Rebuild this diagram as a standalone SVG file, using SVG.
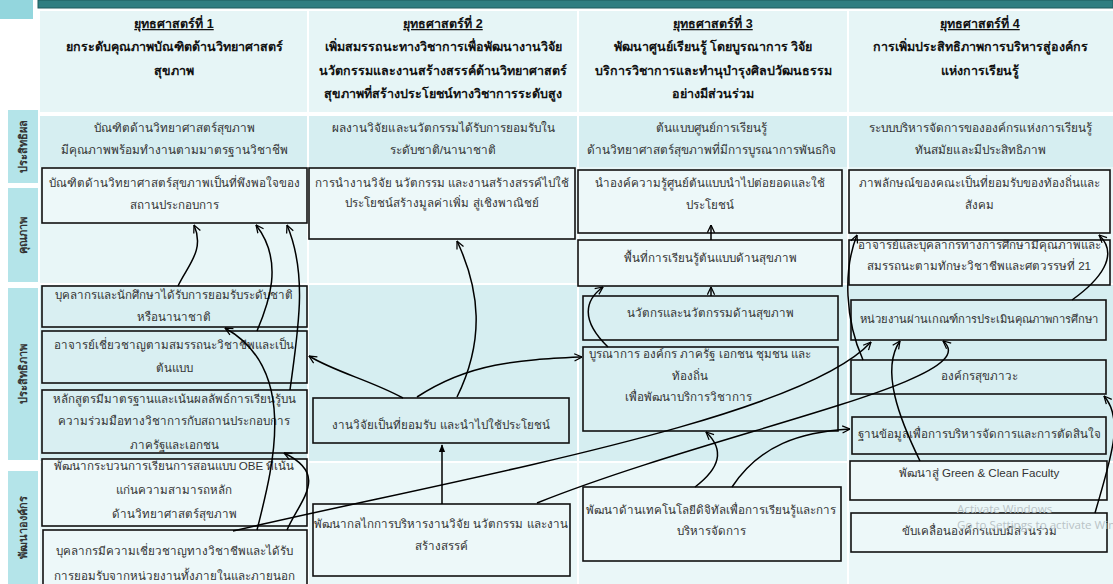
<svg xmlns="http://www.w3.org/2000/svg" width="1113" height="584" viewBox="0 0 1113 584">
<defs>
<style>
text{font-family:"Liberation Sans","Noto Sans",sans-serif;fill:#333;font-size:11.6px;text-anchor:middle}
.h{font-weight:bold;fill:#111;font-size:12.5px}
.u{text-decoration:underline}
.o{font-size:11.8px}
.lab{font-size:11px;font-weight:bold;fill:#333}
.bx{stroke:#111;stroke-width:1.6}
.lt{fill:#EDF8F9}
.dk{fill:#D9EFF2}
.c path{fill:none;stroke:#000;stroke-width:1.5}
.wm{fill:#b9c3c6;font-family:"Open Sans","Liberation Sans",sans-serif;text-anchor:start}
</style>
<marker id="a" viewBox="0 0 10 10" refX="9.5" refY="5" markerWidth="9" markerHeight="9" markerUnits="userSpaceOnUse" orient="auto"><path d="M1,1 L9.5,5 L1,9" fill="none" stroke="#000" stroke-width="1.4"/></marker>
<marker id="f" viewBox="0 0 10 10" refX="9" refY="5" markerWidth="8" markerHeight="8" markerUnits="userSpaceOnUse" orient="auto"><path d="M0,1 L10,5 L0,9 Z" fill="#000"/></marker>
</defs>
<rect width="1113" height="584" fill="#ffffff"/>
<rect x="0" y="0" width="33" height="19" fill="#93D6DD"/>
<rect x="38" y="0" width="1075" height="8" fill="#2F7E81" stroke="#1f5a5c" stroke-width="1"/>
<g id="background">
<rect x="40" y="11" width="267" height="101" fill="#E6F5F6"/>
<rect x="309" y="11" width="268" height="101" fill="#E6F5F6"/>
<rect x="579" y="11" width="268" height="101" fill="#E6F5F6"/>
<rect x="849" y="11" width="264" height="101" fill="#E6F5F6"/>
<rect x="40" y="116" width="267" height="51" fill="#D6EEF1"/>
<rect x="309" y="116" width="268" height="51" fill="#D6EEF1"/>
<rect x="579" y="116" width="268" height="51" fill="#D6EEF1"/>
<rect x="849" y="116" width="264" height="51" fill="#D6EEF1"/>
<rect x="40" y="167" width="267" height="116" fill="#E8F6F7"/>
<rect x="309" y="167" width="268" height="116" fill="#E8F6F7"/>
<rect x="579" y="167" width="268" height="116" fill="#E8F6F7"/>
<rect x="849" y="167" width="264" height="116" fill="#E8F6F7"/>
<rect x="40" y="285" width="267" height="176" fill="#D6EEF1"/>
<rect x="309" y="285" width="268" height="176" fill="#D6EEF1"/>
<rect x="579" y="285" width="268" height="176" fill="#D6EEF1"/>
<rect x="849" y="285" width="264" height="176" fill="#D6EEF1"/>
<rect x="40" y="463" width="267" height="121" fill="#EAF7F8"/>
<rect x="309" y="463" width="268" height="121" fill="#EAF7F8"/>
<rect x="579" y="463" width="268" height="121" fill="#EAF7F8"/>
<rect x="849" y="463" width="264" height="121" fill="#EAF7F8"/>
</g>
<g id="row-labels">
<rect x="8" y="110" width="30" height="73" fill="#B4E4E9"/>
<text class="lab" transform="translate(27,146) rotate(-90)">ประสิทธิผล</text>
<rect x="8" y="188" width="30" height="94" fill="#B4E4E9"/>
<text class="lab" transform="translate(27,235) rotate(-90)">คุณภาพ</text>
<rect x="8" y="288" width="30" height="172" fill="#B4E4E9"/>
<text class="lab" transform="translate(27,374) rotate(-90)">ประสิทธิภาพ</text>
<rect x="8" y="471" width="30" height="113" fill="#B4E4E9"/>
<text class="lab" transform="translate(27,527) rotate(-90)">พัฒนาองค์กร</text>
</g>
<g id="headers">
<g id="h1"><text class="h u" x="174" y="28">ยุทธศาสตร์ที่ 1</text><text class="h" x="174" y="51">ยกระดับคุณภาพบัณฑิตด้านวิทยาศาสตร์</text><text class="h" x="174" y="75">สุขภาพ</text></g>
<g id="h2"><text class="h u" x="443" y="28">ยุทธศาสตร์ที่ 2</text><text class="h" x="443" y="51">เพิ่มสมรรถนะทางวิชาการเพื่อพัฒนางานวิจัย</text><text class="h" x="443" y="75">นวัตกรรมและงานสร้างสรรค์ด้านวิทยาศาสตร์</text><text class="h" x="443" y="98">สุขภาพที่สร้างประโยชน์ทางวิชาการระดับสูง</text></g>
<g id="h3"><text class="h u" x="713" y="28">ยุทธศาสตร์ที่ 3</text><text class="h" x="713" y="51">พัฒนาศูนย์เรียนรู้ โดยบูรณาการ วิจัย</text><text class="h" x="713" y="75">บริการวิชาการและทำนุบำรุงศิลปวัฒนธรรม</text><text class="h" x="713" y="98">อย่างมีส่วนร่วม</text></g>
<g id="h4"><text class="h u" x="980" y="28">ยุทธศาสตร์ที่ 4</text><text class="h" x="980" y="51">การเพิ่มประสิทธิภาพการบริหารสู่องค์กร</text><text class="h" x="980" y="75">แห่งการเรียนรู้</text></g>
</g>
<g id="outcomes">
<g id="o1"><text class="o" x="174" y="132">บัณฑิตด้านวิทยาศาสตร์สุขภาพ</text><text class="o" x="174" y="154">มีคุณภาพพร้อมทำงานตามมาตรฐานวิชาชีพ</text></g>
<g id="o2"><text class="o" x="443" y="132">ผลงานวิจัยและนวัตกรรมได้รับการยอมรับใน</text><text class="o" x="443" y="154">ระดับชาติ/นานาชาติ</text></g>
<g id="o3"><text class="o" x="711" y="132">ต้นแบบศูนย์การเรียนรู้</text><text class="o" x="711" y="154">ด้านวิทยาศาสตร์สุขภาพที่มีการบูรณาการพันธกิจ</text></g>
<g id="o4"><text class="o" x="980" y="132">ระบบบริหารจัดการขององค์กรแห่งการเรียนรู้</text><text class="o" x="980" y="154">ทันสมัยและมีประสิทธิภาพ</text></g>
</g>
<g id="B1"><rect class="bx lt" x="42" y="168" width="265" height="55"/><text x="174" y="187">บัณฑิตด้านวิทยาศาสตร์สุขภาพเป็นที่พึงพอใจของ</text><text x="174" y="209">สถานประกอบการ</text></g>
<g id="B2"><rect class="bx dk" x="42" y="286" width="265" height="41"/><text x="174" y="299">บุคลากรและนักศึกษาได้รับการยอมรับระดับชาติ</text><text x="174" y="321">หรือนานาชาติ</text></g>
<g id="B3"><rect class="bx dk" x="42" y="331" width="265" height="52"/><text x="174" y="349">อาจารย์เชี่ยวชาญตามสมรรถนะวิชาชีพและเป็น</text><text x="174" y="372">ต้นแบบ</text></g>
<g id="B4"><rect class="bx dk" x="42" y="390" width="265" height="63"/><text x="174" y="403">หลักสูตรมีมาตรฐานและเน้นผลลัพธ์การเรียนรู้บน</text><text x="174" y="425">ความร่วมมือทางวิชาการกับสถานประกอบการ</text><text x="174" y="449">ภาครัฐและเอกชน</text></g>
<g id="B5"><rect class="bx lt" x="42" y="459" width="265" height="67"/><text x="174" y="470">พัฒนากระบวนการเรียนการสอนแบบ OBE ที่เน้น</text><text x="174" y="494">แก่นความสามารถหลัก</text><text x="174" y="518">ด้านวิทยาศาสตร์สุขภาพ</text></g>
<g id="B6"><rect class="bx lt" x="43" y="530" width="264" height="60"/><text x="174" y="555">บุคลากรมีความเชี่ยวชาญทางวิชาชีพและได้รับ</text><text x="174" y="580">การยอมรับจากหน่วยงานทั้งภายในและภายนอก</text></g>
<g id="C1"><rect class="bx lt" x="309" y="168" width="266" height="71"/><text x="442" y="187">การนำงานวิจัย นวัตกรรม และงานสร้างสรรค์ไปใช้</text><text x="442" y="207">ประโยชน์สร้างมูลค่าเพิ่ม สู่เชิงพาณิชย์</text></g>
<g id="C2"><rect class="bx dk" x="313" y="398" width="256" height="45"/><text x="441" y="429">งานวิจัยเป็นที่ยอมรับ และนำไปใช้ประโยชน์</text></g>
<g id="C3"><rect class="bx lt" x="313" y="504" width="257" height="72"/><text x="441" y="528">พัฒนากลไกการบริหารงานวิจัย นวัตกรรม และงาน</text><text x="441" y="550">สร้างสรรค์</text></g>
<g id="D1"><rect class="bx lt" x="578" y="170" width="264" height="63"/><text x="710" y="187">นำองค์ความรู้ศูนย์ต้นแบบนำไปต่อยอดและใช้</text><text x="710" y="209">ประโยชน์</text></g>
<g id="D2"><rect class="bx lt" x="578" y="240" width="264" height="46"/><text x="710" y="262">พื้นที่การเรียนรู้ต้นแบบด้านสุขภาพ</text></g>
<g id="D3"><rect class="bx dk" x="583" y="296" width="255" height="44"/><text x="710" y="317">นวัตกรและนวัตกรรมด้านสุขภาพ</text></g>
<g id="D4"><rect class="bx dk" x="583" y="347" width="255" height="84"/><text x="700" y="358">บูรณาการ องค์กร ภาครัฐ เอกชน ชุมชน และ</text><text x="690" y="380">ท้องถิ่น</text><text x="688" y="401">เพื่อพัฒนาบริการวิชาการ</text></g>
<g id="D5"><rect class="bx lt" x="583" y="487" width="258" height="74"/><text x="711" y="514">พัฒนาด้านเทคโนโลยีดิจิทัลเพื่อการเรียนรู้และการ</text><text x="711" y="535">บริหารจัดการ</text></g>
<g id="E1"><rect class="bx lt" x="849" y="170" width="261" height="63"/><text x="979" y="187">ภาพลักษณ์ของคณะเป็นที่ยอมรับของท้องถิ่นและ</text><text x="979" y="209">สังคม</text></g>
<g id="E2"><rect class="bx lt" x="849" y="240" width="261" height="45"/><text x="979" y="249">อาจารย์และบุคลากรทางการศึกษามีคุณภาพและ</text><text x="979" y="270">สมรรถนะตามทักษะวิชาชีพและศตวรรษที่ 21</text></g>
<g id="E3"><rect class="bx dk" x="851" y="300" width="255" height="40"/><text x="979" y="323" style="font-size:11.2px">หน่วยงานผ่านเกณฑ์การประเมินคุณภาพการศึกษา</text></g>
<g id="E4"><rect class="bx dk" x="851" y="360" width="255" height="34"/><text x="979" y="380">องค์กรสุขภาวะ</text></g>
<g id="E5"><rect class="bx dk" x="852" y="417" width="254" height="37"/><text x="979" y="438">ฐานข้อมูลเพื่อการบริหารจัดการและการตัดสินใจ</text></g>
<g id="E6"><rect class="bx lt" x="850" y="461" width="257" height="39"/><text x="979" y="477">พัฒนาสู่ Green &amp; Clean Faculty</text></g>
<g id="E7"><rect class="bx lt" x="851" y="513" width="256" height="39"/><text x="979" y="535">ขับเคลื่อนองค์กรแบบมีส่วนร่วม</text></g>
<g id="connectors" class="c">
<path marker-end="url(#a)" d="M178,286 C188,265 205,250 194,225"/>
<path marker-end="url(#a)" d="M257,331 C268,305 285,262 256,225"/>
<path marker-end="url(#a)" d="M290,390 C298,330 308,275 287,225"/>
<path marker-end="url(#a)" d="M257,530 C272,470 300,370 225,328"/>
<path marker-end="url(#a)" d="M287,530 C300,500 330,475 284,453"/>
<path marker-end="url(#a)" d="M403,398 C370,380 335,372 309,356"/>
<path marker-end="url(#a)" d="M417,397 C470,362 520,360 582,357"/>
<path marker-end="url(#a)" d="M457,397 C485,340 480,290 457,241"/>
<path marker-end="url(#f)" d="M442,504 L442,445"/>
<path marker-end="url(#a)" d="M233,531 C450,480 800,420 871,342"/>
<path marker-end="url(#a)" d="M537,503 C720,430 990,380 943,341"/>
<path marker-end="url(#a)" d="M695,487 C720,468 725,450 706,432"/>
<path marker-end="url(#a)" d="M732,487 C760,445 800,432 850,429"/>
<path marker-end="url(#a)" d="M608,347 C580,320 585,300 603,287"/>
<path marker-end="url(#a)" d="M711,296 L711,287"/>
<path marker-end="url(#a)" d="M711,240 L711,225"/>
<path marker-end="url(#a)" d="M863,360 C845,320 843,270 857,235"/>
<path marker-end="url(#a)" d="M1072,300 C1100,280 1120,255 1099,235"/>
<path marker-end="url(#a)" d="M1095,513 C1110,460 1125,420 1104,396"/>
<path marker-end="url(#a)" d="M920,461 C900,420 880,370 900,341"/>
</g>
<text class="wm" x="957" y="513" font-size="14.5">Activate Windows</text>
<text class="wm" x="957" y="529" font-size="11">Go to Settings to activate Windows.</text>
</svg>
